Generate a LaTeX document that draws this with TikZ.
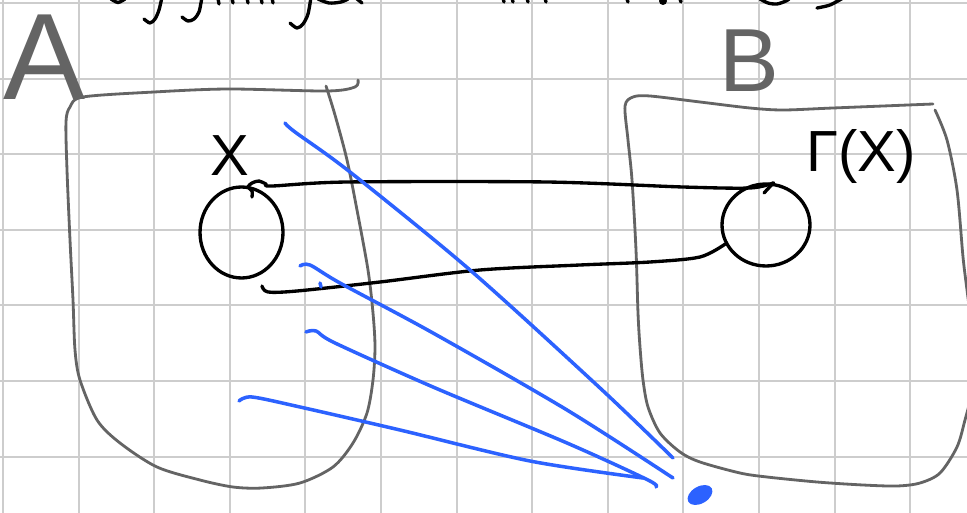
\documentclass[tikz,border=0pt]{standalone}
\usepackage{fontspec}
\setmainfont{Liberation Sans}
\usetikzlibrary{shapes.geometric}
\definecolor{gridc}{RGB}{205,205,205}
\definecolor{boxc}{RGB}{100,100,100}
\definecolor{bluc}{RGB}{44,98,255}
\begin{document}
\begin{tikzpicture}[x=0.02cm,y=-0.02cm,
 gridline/.style={draw=gridc,line width=1.1pt},
 boxline/.style={draw=boxc,line width=1.6pt,line cap=round,line join=round},
 inkline/.style={draw=black,line width=1.9pt,line cap=round,line join=round},
 blueline/.style={draw=bluc,line width=2pt,line cap=round,line join=round},
 setnode/.style={ellipse,draw=black,line width=1.9pt,inner sep=0pt},
 lbl/.style={inner sep=0pt,anchor=base}]
\useasboundingbox (0,0) rectangle (967,513);
\fill[white] (0,0) rectangle (967,513);
\clip (0,0) rectangle (967,513);
% grid paper
\foreach \i in {0,...,12} \draw[gridline] ({3+75.6*\i},0) -- ({3+75.6*\i},513);
\foreach \j in {0,...,6} \draw[gridline] (0,{3+75.6*\j}) -- (967,{3+75.6*\j});
% cut-off handwriting at the top
\draw[inkline] plot[smooth] coordinates {(111,-1) (118,2.5) (125,-1)};
\draw[inkline] plot[smooth] coordinates {(162,-3) (159,10) (155,19) (150,23) (144,19)};
\draw[inkline] plot[smooth] coordinates {(202,-3) (199,12) (194,19) (188,21) (182,17)};
\draw[inkline] (218,-1) -- (219,4);
\foreach \t in {232,247,261,272} \draw[inkline] (\t,-2) -- (\t+1,3);
\draw[inkline] plot[smooth] coordinates {(311,-3) (308,14) (303,24) (297,28) (290,23)};
\draw[inkline] plot[smooth] coordinates {(318,-1) (329,3) (341,2) (348,-1)};
\draw[inkline] (357,-1) -- (362,3);
\foreach \t in {503,512,527,545} \draw[inkline] (\t,-2) -- (\t+1,2);
\draw[inkline] (627,-1) -- (628,2);
\fill (663,1) circle [radius=4];
\draw[inkline] (680,-1) -- (681,2);
\draw[inkline] plot[smooth] coordinates {(760,-1) (768,3) (777,4) (786,1) (789,-1)};
\draw[inkline] plot[smooth] coordinates {(817,8) (830,5) (843,-2)};
% set A
\draw[boxline] plot[smooth] coordinates {(358,80) (355,87) (327,91) (228,89) (154,92) (83,97) (70,107) (66,122) (67,170) (70,240) (73,300) (75,350) (80,380) (97,420) (120,443) (157,467) (200,480) (233,487) (262,488) (300,483) (333,467) (353,443) (367,413) (373,380) (375,347) (373,313) (368,270) (357,210) (347,160) (335,115) (326,86)};
% set B
\draw[boxline] plot[smooth] coordinates {(935,110) (947,140) (957,190) (963,257) (967,290) (972,330) (973,360) (971,395) (965,420) (957,447) (940,473) (920,483) (897,486) (863,485) (817,482) (767,477) (740,473) (700,462) (680,452) (660,433) (648,407) (643,380) (640,347) (638,313) (636,250) (632,180) (628,140) (625,106) (633,97) (650,96) (700,102) (750,108) (783,110) (833,108) (933,104)};
% labels
\node[lbl,text=boxc,font=\fontsize{70}{70}\selectfont] (lA) at (45,100) {A};
\node[lbl,text=boxc,font=\fontsize{51}{51}\selectfont] (lB) at (749,92) {B};
\node[lbl,font=\fontsize{33}{33}\selectfont] (lX) at (230,176) {X};
\node[lbl,anchor=base west,font=\fontsize{33}{33}\selectfont] (lG) at (806,172) {Γ(X)};
% subsets
\node[setnode,minimum width=1.66cm,minimum height=1.82cm] (X) at (241.5,232.5) {};
\node[setnode,minimum width=1.76cm,minimum height=1.64cm] (G) at (766,225) {};
\coordinate (xs) at (252,197);
\coordinate (ls) at (262,286);
\draw[inkline] plot[smooth] coordinates {(xs) (252,191) (248,187) (252,183) (259,181) (266,184) (272,186) (347,182) (547,182) (683,187) (750,188) (G.80)};
\draw[inkline] (G.80) -- (764,193);
\draw[inkline] plot[smooth] coordinates {(ls) (268,292) (297,291) (380,282) (480,270) (580,265) (650,262) (700,257) (G.205)};
% blue point and rays
\node[fill=bluc,ellipse,inner sep=0pt,minimum width=0.54cm,minimum height=0.34cm,rotate=30] (p) at (700,495) {};
\draw[blueline] plot[smooth] coordinates {(285,123) (295,132) (350,172) (470,270) (600,388) (673,458)};
\draw[blueline] plot[smooth] coordinates {(300,266) (310,265) (340,283) (433,333) (567,410) (673,478)};
\draw[blueline] plot[smooth] coordinates {(306,332) (316,331) (335,343) (433,387) (567,443) (648,480) (656,487)};
\draw[blueline] plot[smooth] coordinates {(239,401) (252,397) (300,407) (400,430) (530,461) (643,478)};
\draw[blueline] (320,283) -- (321,287);
\end{tikzpicture}
\end{document}
